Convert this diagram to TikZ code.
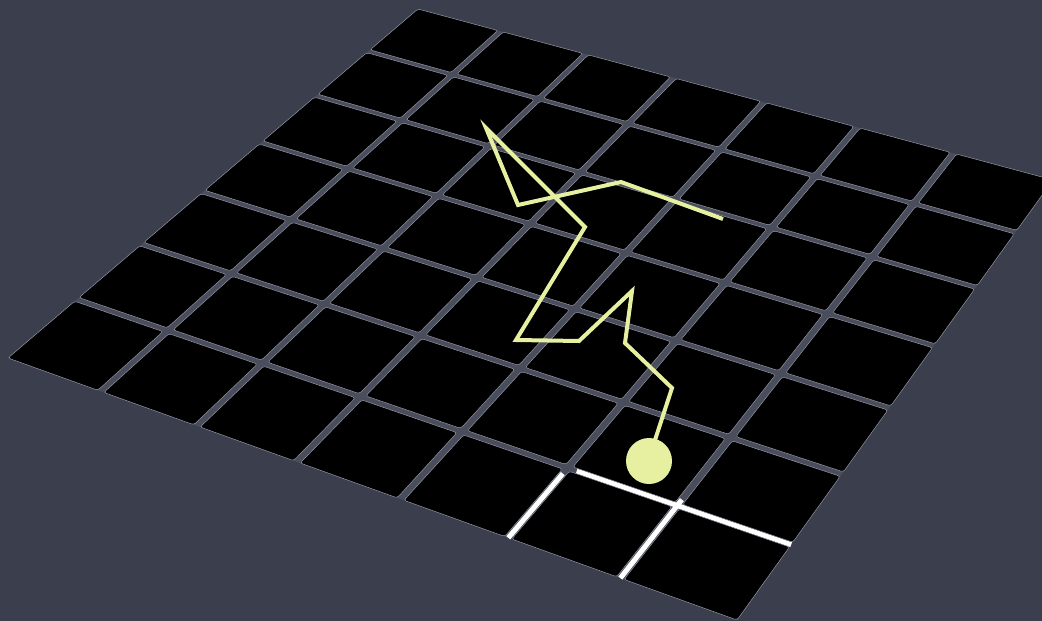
\documentclass[tikz,border=0pt]{standalone}
\definecolor{bgc}{RGB}{58,62,77}
\definecolor{gapc}{RGB}{74,77,92}
\definecolor{rimc}{RGB}{150,153,166}
\definecolor{pathc}{RGB}{230,240,160}
\newcommand\hpt[3]{%
  \pgfmathsetmacro\hD{1-0.10336*(#2)-0.17375*(#3)}%
  \pgfmathsetmacro\hX{(526.16*(#2)-411.39*(#3)+418)/\hD}%
  \pgfmathsetmacro\hY{(152.4*(#2)+286.8*(#3)+9)/\hD}%
  \coordinate (#1) at (\hX,\hY);}
\tikzset{
  tile/.style={fill=black,draw=rimc,line width=0.5pt,rounded corners=2.5pt},
  glow/.style={draw=white,line width=5pt},
  walk/.style={draw=pathc,line width=4pt,line join=miter},
}
\begin{document}
\begin{tikzpicture}[x=1pt,y=-1pt]
\useasboundingbox (0,0) rectangle (1042,621);
\fill[bgc] (0,0) rectangle (1042,621);
\clip (0,0) rectangle (1042,621);
% gap floor
\hpt{q0}{0}{0}\hpt{q1}{1}{0}\hpt{q2}{1}{1}\hpt{q3}{0}{1}
\fill[gapc] (q0)--(q1)--(q2)--(q3)--cycle;
% white gaps
\hpt{w1}{5/7+0.012}{6/7}\hpt{w2}{1}{6/7}
\hpt{w3}{6/7}{6/7-0.012}\hpt{w4}{6/7}{1}
\hpt{w5}{5/7}{6/7+0.012}\hpt{w6}{5/7}{1}
\draw[glow] (w1)--(w2);
\draw[glow] (w3)--(w4);
\draw[glow] (w5)--(w6);
% tiles
\def\gp{0.0046}
\foreach \i in {0,...,6}{
  \foreach \j in {0,...,6}{
    \pgfmathsetmacro\ua{\i/7+(\i>0)*\gp}
    \pgfmathsetmacro\ub{(\i+1)/7-(\i<6)*\gp}
    \pgfmathsetmacro\va{\j/7+(\j>0)*\gp}
    \pgfmathsetmacro\vb{(\j+1)/7-(\j<6)*\gp}
    \hpt{a}{\ua}{\va}\hpt{b}{\ub}{\va}\hpt{c}{\ub}{\vb}\hpt{d}{\ua}{\vb}
    \draw[tile] (a)--(b)--(c)--(d)--cycle;
  }}
% random walk
\coordinate (p0) at (655,440);
\coordinate (p1) at (672,388);
\coordinate (p2) at (625,343);
\coordinate (p3) at (632,291);
\coordinate (p4) at (579,341);
\coordinate (p5) at (516,340);
\coordinate (p6) at (585,227);
\coordinate (p7) at (486,128);
\coordinate (p8) at (518,205);
\coordinate (p9) at (621,182);
\coordinate (p10) at (723,219);
\draw[walk] (p0)--(p1)--(p2)--(p3)--(p4)--(p5)--(p6)--(p7)--(p8)--(p9)--(p10);
\coordinate (dot) at (649,461);
\fill[pathc] (dot) circle[radius=23pt];
\end{tikzpicture}
\end{document}
